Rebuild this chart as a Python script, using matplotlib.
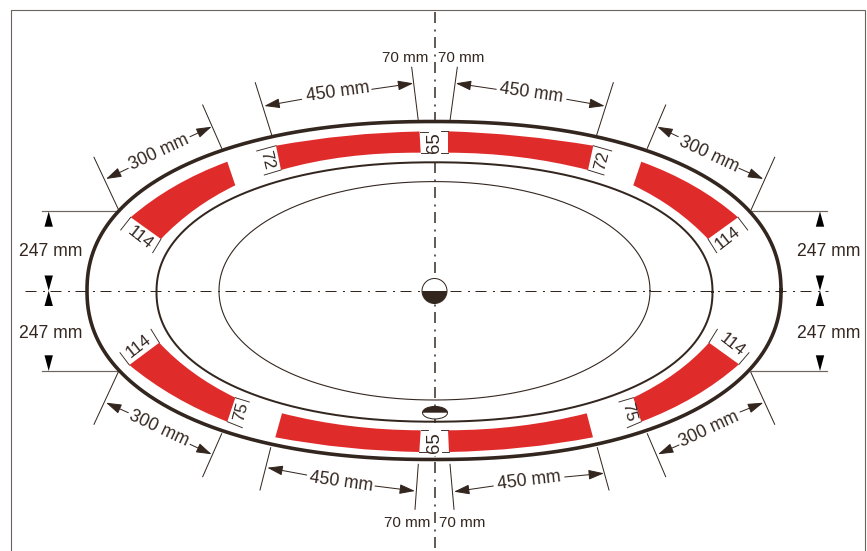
import numpy as np
import matplotlib
matplotlib.use('Agg')
import matplotlib.pyplot as plt
from matplotlib.path import Path
from matplotlib.patches import PathPatch, Ellipse, Wedge

plt.rcParams['font.family'] = ['Liberation Sans', 'DejaVu Sans']
plt.rcParams['lines.scale_dashes'] = False

INK = '#33261f'
RED = '#e02b2b'
GREY = '#6f6660'

# everything below is read off the drawing, in image pixels
# ring: centre x, centre y, half width, half height, line px, squareness
rings = [
    (434.0, 290.5, 347.0, 169.0, 3.6, 2.2),
    (434.5, 292.0, 278.0, 129.7, 2.0, 2.15),
    (434.5, 290.8, 215.5, 109.2, 1.1, 2.05),
]

# red bands: outer edge start, mid, end, then inner edge start, mid, end
bands = [
    [(419.5, 131.5), (347, 135.7), (276, 145.7), (281, 170), (347, 156.7), (420.7, 152.7)],
    [(448, 131.3), (520.7, 136), (593.3, 145.7), (588, 170), (519, 157), (448, 152.7)],
    [(227.3, 161.7), (175, 186), (130.7, 217.3), (161, 239), (195, 209.3), (235.3, 185.3)],
    [(641.3, 161.7), (694, 186), (738, 217.3), (708, 239), (674, 209.3), (633.3, 185.3)],
    [(129.3, 365), (175, 396.7), (227.3, 421.7), (235.3, 397.7), (193.3, 372.7), (159.3, 342.7)],
    [(739, 364.3), (694, 396.7), (641.3, 421.7), (633.3, 397.7), (675.7, 372.7), (709, 342.7)],
    [(275.3, 437.3), (346.7, 447.7), (419.3, 452), (420.7, 430.3), (350, 426), (282, 413.3)],
    [(593, 437.3), (522, 447.7), (449, 452), (448, 430.3), (519, 426), (586.7, 413.3)],
]

# long dimensions
dim_labels = ['450 mm', '450 mm', '300 mm', '300 mm', '300 mm', '300 mm', '450 mm', '450 mm']
dim_xy = [(338, 92.5), (530.7, 93.3), (159.3, 152.7), (709, 154.3),
          (159.3, 428.7), (709, 429.3), (340.7, 481.7), (529, 481)]
dim_rot = [8, -8, 25, -25, -25, 25, -8, 7]

# arrows: (tip, tail)
arrows = [
    ((264.3, 106), (301.7, 99.3)), ((413.3, 83.3), (371.7, 89.3)),
    ((455.7, 83.3), (496.3, 89.3)), ((604.7, 106), (566.7, 99.3)),
    ((106, 179), (128.3, 168.3)), ((211.7, 126.7), (190, 136.7)),
    ((657.3, 126.7), (678.3, 136.7)), ((763.3, 179), (739, 168.3)),
    ((106, 402.7), (128.3, 412.7)), ((211.7, 454.3), (190, 444.3)),
    ((658, 454.3), (679, 445)), ((763.3, 402.7), (740, 412)),
    ((267.3, 467.7), (306.7, 475)), ((415, 491), (375, 486)),
    ((454, 491.7), (493.3, 486)), ((604, 473.3), (564.7, 477)),
]

ext_lines = [
    ((255.3, 82.7), (271.7, 135)), ((411.7, 67.3), (418.3, 120.7)),
    ((457.3, 67.3), (450, 120.7)), ((613.3, 82.7), (596.7, 135)),
    ((94, 157.3), (119, 210.7)), ((202.7, 105), (221.7, 148.3)),
    ((665.7, 105), (647.3, 148.3)), ((774.7, 157.3), (750.7, 210.7)),
    ((94, 424.3), (118.3, 372)), ((202.7, 476.7), (221.7, 433.7)),
    ((665.7, 476.7), (647.3, 433.7)), ((774.7, 424.3), (750.7, 372)),
    ((260, 490), (270.7, 447.7)), ((415, 509.3), (418.3, 464.3)),
    ((454, 509.3), (450, 464.3)), ((609, 490), (597.3, 447.7)),
]

# small section widths on the bands
width_labels = ['72', '72', '114', '114', '114', '114', '75', '75', '65', '65']
width_xy = [(267, 160.5), (602, 161), (140, 238), (727.3, 238.3),
            (138.3, 346), (732.3, 345.3), (241.5, 411.5), (629, 412),
            (434.5, 143), (434.5, 442.5)]
width_rot = [-76, 76, -38, 38, 38, -38, 76, -76, 90, 90]

width_ticks = [
    ((276, 145.7), (256.7, 151)), ((281, 170), (264.3, 175)),
    ((593.3, 145.7), (611.7, 151)), ((588, 170), (604, 175)),
    ((130.7, 217.3), (120.7, 230)), ((161, 239), (152.7, 252.7)),
    ((738, 217.3), (747.7, 230)), ((708, 239), (716.7, 252.7)),
    ((129.3, 365), (120, 352.7)), ((159.3, 342.7), (151, 329.3)),
    ((709, 342.7), (717.3, 329.3)), ((739, 364.3), (749, 352.7)),
    ((235.3, 397.7), (249.3, 402)), ((227.3, 421.7), (242.3, 427.7)),
    ((633.3, 397.7), (619, 402)), ((641.3, 421.7), (627.3, 427.7)),
    ((419.5, 131.5), (427.5, 131.5)), ((420.7, 152.7), (427.7, 152.7)),
    ((448, 131.3), (441, 131.3)), ((448, 152.7), (441, 152.7)),
    ((420.7, 430.3), (427.7, 430.3)), ((419.3, 452), (427, 452)),
    ((448, 430.3), (441, 430.3)), ((449, 452), (441.5, 452)),
]

side_labels = ['247 mm', '247 mm', '247 mm', '247 mm']
side_xy = [(51, 251), (829, 251), (51, 333.3), (829, 333.3)]
side_lines = [((41.7, 210.7), (119, 210.7)), ((750.7, 210.7), (827.3, 210.7)),
              ((41.7, 371), (118.3, 371)), ((750.7, 371), (827.3, 371))]
# triangle: apex y, base y
side_triangles = [(211.5, 226.7), (290.7, 275.5), (290.7, 306), (371, 355.3)]
side_tri_x = [48.7, 820]

gap_labels = ['70 mm', '70 mm', '70 mm', '70 mm']
gap_xy = [(405, 58.3), (461.3, 58.3), (407.3, 522.7), (462.3, 522.7)]


def px(n):
    return n * 0.72


def oval_xy(cx, cy, a, b, n):
    t = np.linspace(0, 2 * np.pi, 721)
    c, s = np.cos(t), np.sin(t)
    x = cx + a * np.sign(c) * np.abs(c) ** (2 / n)
    y = cy + b * np.sign(s) * np.abs(s) ** (2 / n)
    return x, y


def draw_band(ax, pts):
    pts = np.array(pts, dtype=float)
    ctrl1 = 2 * pts[1] - 0.5 * (pts[0] + pts[2])
    ctrl2 = 2 * pts[4] - 0.5 * (pts[3] + pts[5])
    verts = [pts[0], ctrl1, pts[2], pts[3], ctrl2, pts[5], pts[0]]
    codes = [Path.MOVETO, Path.CURVE3, Path.CURVE3, Path.LINETO,
             Path.CURVE3, Path.CURVE3, Path.CLOSEPOLY]
    ax.add_patch(PathPatch(Path(verts, codes), fc=RED, ec='none', zorder=2))


def half_filled(ax, xy, w, h, theta1, theta2):
    outline = Ellipse(xy, w, h, fc='white', ec=INK, lw=px(1), zorder=4)
    ax.add_patch(outline)
    half = Wedge(xy, w / 2, theta1, theta2, fc=INK, ec='none', zorder=5)
    ax.add_patch(half)
    half.set_clip_path(outline)


fig = plt.figure(figsize=(8.67, 5.51), dpi=100)
ax = fig.add_axes([0, 0, 1, 1])
ax.set_xlim(0, 867)
ax.set_ylim(551, 0)
ax.axis('off')

# frame is open along the bottom
ax.plot([10.5, 10.5, 864.5, 864.5], [551, 9.5, 9.5, 551], color='#6b625b', lw=px(1.1), zorder=1)

# centre lines
pattern = (0, (px(11), px(6.5), px(2), px(5.5)))
ax.plot([434.5, 434.5], [12, 551], color=INK, lw=px(1.5), ls=pattern, zorder=1)
ax.plot([25, 828], [290.7, 290.7], color=INK, lw=px(1), ls=pattern, zorder=1)

for cx, cy, a, b, lw, n in rings:
    x, y = oval_xy(cx, cy, a, b, n)
    ax.plot(x, y, color=INK, lw=px(lw), zorder=3)

for band in bands:
    draw_band(ax, band)

# drain and overflow
half_filled(ax, (434.5, 291), 25, 25, 0, 180)
half_filled(ax, (435, 412.7), 25, 12.5, 180, 360)

for a, b in ext_lines:
    ax.plot([a[0], b[0]], [a[1], b[1]], color=INK, lw=px(1), zorder=2)

for tip, tail in arrows:
    ax.annotate('', xy=tip, xytext=tail,
                arrowprops=dict(arrowstyle='-|>,head_length=0.95,head_width=0.3',
                                color=INK, lw=px(1), shrinkA=0, shrinkB=0), zorder=3)

for label, xy, rot in zip(dim_labels, dim_xy, dim_rot):
    ax.text(xy[0], xy[1], label, fontsize=12.7, color=INK, rotation=rot,
            ha='center', va='center', rotation_mode='anchor', zorder=6)

for a, b in width_ticks:
    ax.plot([a[0], b[0]], [a[1], b[1]], color=INK, lw=px(0.9), zorder=7)

for label, xy, rot in zip(width_labels, width_xy, width_rot):
    is_center = label == '65'
    ax.text(xy[0], xy[1], label, fontsize=13.3 if is_center else 12.3, color=INK, rotation=rot,
            ha='center', va='center', rotation_mode='anchor', zorder=6,
            bbox=dict(fc='white', ec='none', pad=2.5) if is_center else None)

for a, b in side_lines:
    ax.plot([a[0], b[0]], [a[1], b[1]], color=GREY, lw=px(1.2), zorder=1)

for x0 in side_tri_x:
    for apex, base in side_triangles:
        ax.fill([x0 - 4.2, x0 + 4.2, x0], [base, base, apex], color='black', lw=0, zorder=4)

for label, xy in zip(side_labels, side_xy):
    ax.text(xy[0], xy[1], label, fontsize=12.7, color=INK, ha='center', va='center', zorder=6)

for label, xy in zip(gap_labels, gap_xy):
    ax.text(xy[0], xy[1], label, fontsize=11, color=INK, ha='center', va='center', zorder=6)

fig.savefig('out.png', dpi=100, facecolor='white')
